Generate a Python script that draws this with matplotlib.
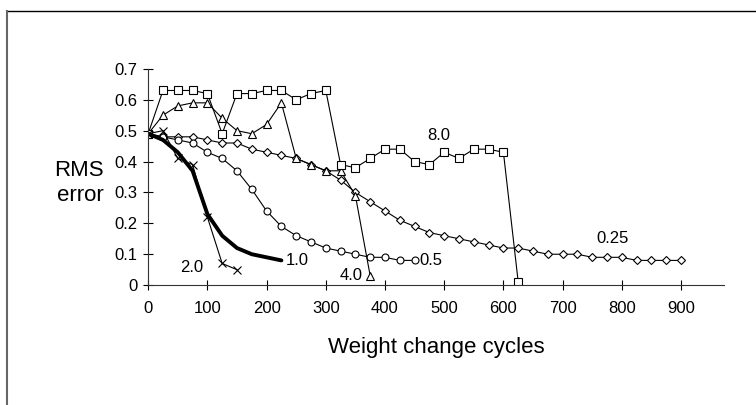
import numpy as np
import matplotlib.pyplot as plt
from matplotlib.lines import Line2D

plt.rcParams['font.family'] = ['Liberation Sans', 'DejaVu Sans']

# Learning rate 8.0 (squares)
x_80 = list(range(0, 650, 25))
y_80 = [0.49, 0.63, 0.63, 0.63, 0.62, 0.49, 0.62, 0.62, 0.63, 0.63, 0.60, 0.62, 0.63,
        0.39, 0.38, 0.41, 0.44, 0.44, 0.40, 0.39, 0.43, 0.41, 0.44, 0.44, 0.43, 0.01]

# Learning rate 4.0 (triangles)
x_40 = list(range(0, 400, 25))
y_40 = [0.49, 0.55, 0.58, 0.59, 0.59, 0.54, 0.50, 0.49, 0.52, 0.59, 0.41, 0.39,
        0.37, 0.37, 0.29, 0.03]

# Learning rate 0.25 (diamonds)
x_025 = list(range(0, 925, 25))
y_025 = [0.49, 0.48, 0.48, 0.48, 0.47, 0.46, 0.46, 0.44, 0.43, 0.42, 0.41, 0.39,
         0.37, 0.34, 0.30, 0.27, 0.24, 0.21, 0.19, 0.17, 0.16, 0.15, 0.14, 0.13,
         0.12, 0.12, 0.11, 0.10, 0.10, 0.10, 0.09, 0.09, 0.09, 0.08, 0.08, 0.08, 0.08]

# Learning rate 0.5 (circles)
x_05 = list(range(0, 475, 25))
y_05 = [0.49, 0.48, 0.47, 0.46, 0.43, 0.41, 0.37, 0.31, 0.24, 0.19, 0.16, 0.14,
        0.12, 0.11, 0.10, 0.09, 0.09, 0.08, 0.08]

# Learning rate 1.0 (thick line)
x_10 = list(range(0, 250, 25))
y_10 = [0.49, 0.47, 0.43, 0.37, 0.23, 0.16, 0.12, 0.10, 0.09, 0.08]

# Learning rate 2.0 (crosses)
x_20 = list(range(0, 175, 25))
y_20 = [0.49, 0.50, 0.41, 0.39, 0.22, 0.07, 0.05]

fig = plt.figure(figsize=(7.56, 4.05), dpi=100)
ax = fig.add_axes([0.196, 0.296, 0.762, 0.534])

mk = dict(color='black', lw=0.8, markerfacecolor='white', markeredgecolor='black',
          markeredgewidth=0.8)
ax.plot(x_025, y_025, marker='D', ms=4, **mk)
ax.plot(x_05, y_05, marker='o', ms=5, **mk)
ax.plot(x_40, y_40, marker='^', ms=6, **mk)
ax.plot(x_80, y_80, marker='s', ms=6, **mk)
ax.plot(x_20, y_20, marker='x', ms=6, **mk)
ax.plot(x_10, y_10, color='black', lw=2.8, solid_capstyle='round')

# Series labels
lab = dict(fontsize=12, ha='center', va='center')
ax.text(490, 0.485, '8.0', **lab)
ax.text(342, 0.03, '4.0', **lab)
ax.text(477, 0.08, '0.5', **lab)
ax.text(785, 0.152, '0.25', **lab)
ax.text(252, 0.08, '1.0', **lab)
ax.text(74, 0.057, '2.0', **lab)

ax.set_xlim(0, 973)
ax.set_ylim(0, 0.7)
ax.set_xticks(range(0, 1000, 100))
ax.set_yticks(np.arange(0, 0.71, 0.1))
ax.set_yticklabels(['0', '0.1', '0.2', '0.3', '0.4', '0.5', '0.6', '0.7'])
ax.tick_params(direction='inout', length=7, width=0.8, labelsize=12, pad=4)
ax.tick_params(axis='x', pad=8)
for s in ['top', 'right']:
    ax.spines[s].set_visible(False)
for s in ['left', 'bottom']:
    ax.spines[s].set_linewidth(0.8)
    ax.spines[s].set_color('#333333')

ax.set_xlabel('Weight change cycles', fontsize=16, labelpad=15)
fig.text(0.1376, 0.548, 'RMS\nerror', fontsize=16, ha='right', va='center',
         multialignment='right', linespacing=1.3)

# chart area border (top and left visible)
fig.add_artist(Line2D([7 / 756, 1], [1 - 10.5 / 405, 1 - 10.5 / 405],
                      transform=fig.transFigure, color='black', lw=1))
fig.add_artist(Line2D([7 / 756, 7 / 756], [0, 1 - 10.5 / 405],
                      transform=fig.transFigure, color='#666666', lw=1.5))

fig.savefig('out.png', dpi=100)
